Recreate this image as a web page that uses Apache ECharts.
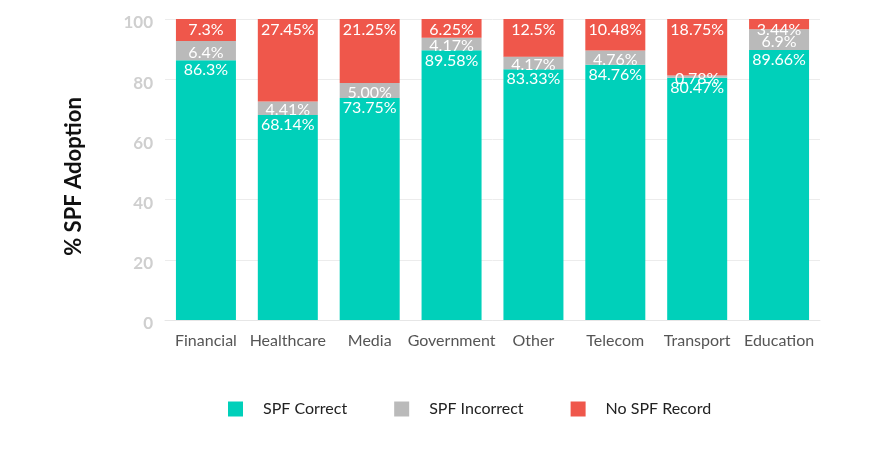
<!DOCTYPE html>
<html><head><meta charset="utf-8">
<script src="https://cdn.jsdelivr.net/npm/echarts@6/dist/echarts.min.js"></script>
<style>html,body{margin:0;padding:0;background:#fff}#c{width:869px;height:457px}</style>
</head><body><div id="c"></div>
<script>
const categories = ['Financial','Healthcare','Media','Government','Other','Telecom','Transport','Education'];
const spfCorrect = [86.3, 68.14, 73.75, 89.58, 83.33, 84.76, 80.47, 89.66];
const spfIncorrect = [6.4, 4.41, 5.00, 4.17, 4.17, 4.76, 0.78, 6.9];
const noSpf = [7.3, 27.45, 21.25, 6.25, 12.5, 10.48, 18.75, 3.44];
const correctLabels = ['86.3%','68.14%','73.75%','89.58%','83.33%','84.76%','80.47%','89.66%'];
const incorrectLabels = ['6.4%','4.41%','5.00%','4.17%','4.17%','4.76%','0.78%','6.9%'];
const noSpfLabels = ['7.3%','27.45%','21.25%','6.25%','12.5%','10.48%','18.75%','3.44%'];
const yTicks = [0,20,40,60,80,100];

const font = 'Lato';
function mk(name, data, labels, color, pos, extra){
  return {
    name, type:'bar', stack:'a', data, barWidth:60,
    itemStyle:{color},
    label:Object.assign({show:true, position:pos, color:'#fff', fontFamily:font, fontSize:16,
      formatter:p=>labels[p.dataIndex]}, extra||{})
  };
}
const chart = echarts.init(document.getElementById('c'));
chart.setOption({
  animation:false,
  textStyle:{fontFamily:font},
  grid:{left:165, right:49, top:19, bottom:137},
  legend:{bottom:35, left:223, itemWidth:15, itemHeight:15, itemGap:47,
    icon:'rect', textStyle:{fontFamily:font, fontSize:16, color:'#222', padding:[0,0,0,15]}},
  xAxis:{type:'category', data:categories,
    axisLine:{lineStyle:{color:'#e6e6e6', width:1}}, axisTick:{show:false},
    axisLabel:{color:'#555', fontSize:16, margin:13, fontFamily:font, interval:0}},
  yAxis:{type:'value', min:0, max:100, interval:20,
    name:'% SPF Adoption', nameLocation:'middle', nameRotate:90, nameGap:80,
    nameTextStyle:{color:'#111', fontSize:22, fontWeight:'bold', fontFamily:font, padding:[0,14,0,0]},
    axisLabel:{margin:12,
      formatter:v=>yTicks.includes(v)?'{a|'+v+'}':'',
      rich:{a:{color:'#cfcfcf', fontSize:17, fontWeight:'bold', fontFamily:font, padding:[8,0,0,0]}}},
    splitLine:{lineStyle:{color:'#ececec'}}},
  series:[
    mk('SPF Correct', spfCorrect, correctLabels, '#00d0ba', 'insideTop', {distance:2}),
    mk('SPF Incorrect', spfIncorrect, incorrectLabels, '#bababa', 'inside', {offset:[0,2]}),
    mk('No SPF Record', noSpf, noSpfLabels, '#ef574b', 'insideTop', {distance:3})
  ]
});
</script></body></html>
